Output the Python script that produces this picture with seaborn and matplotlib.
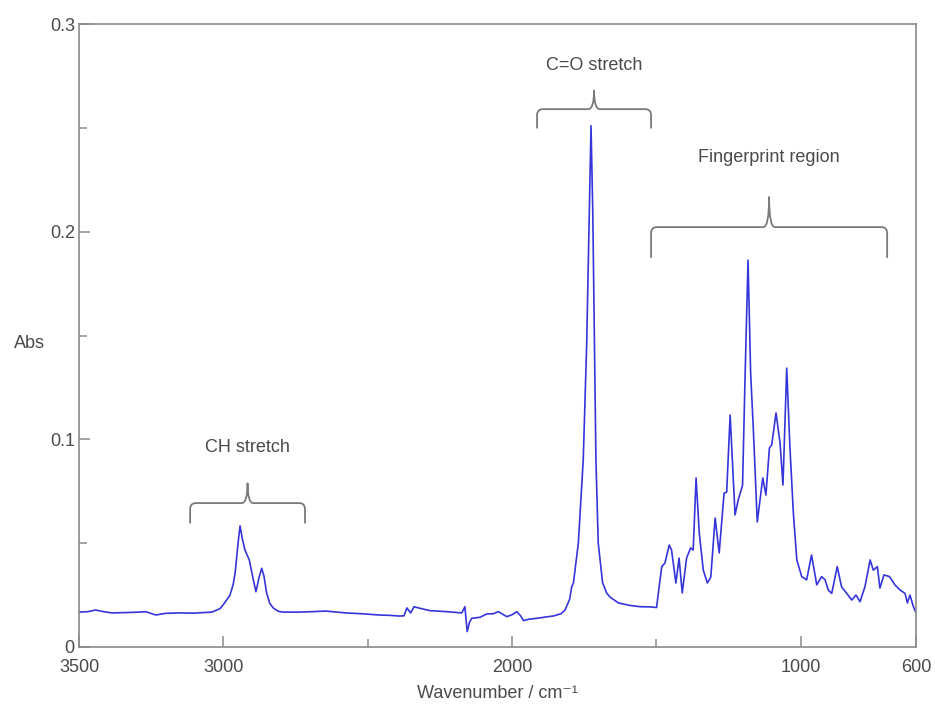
import matplotlib
matplotlib.use('Agg')
import matplotlib.pyplot as plt
from matplotlib.path import Path
from matplotlib.patches import PathPatch
from matplotlib.ticker import FixedLocator, FuncFormatter
import pandas as pd
import seaborn as sns

# ---------------- data ----------------
wavenumber = [3500, 3470, 3442, 3415, 3386, 3330, 3290, 3269, 3234, 3200, 3154, 3100, 3039,
              3011, 2994, 2977, 2966, 2959, 2949, 2942, 2934, 2925, 2910, 2897, 2887, 2877,
              2867, 2859, 2850, 2839, 2827, 2810, 2793, 2740, 2693, 2645, 2576, 2520, 2461,
              2420, 2391, 2374, 2364, 2351, 2339, 2324, 2284, 2226, 2174, 2163, 2155, 2147,
              2139, 2111, 2087, 2065, 2047, 2018, 2000, 1983, 1970, 1960, 1940, 1914, 1880,
              1857, 1830, 1816, 1800, 1793, 1787, 1770, 1753, 1741, 1732, 1726, 1720, 1714,
              1709, 1701, 1686, 1672, 1660, 1631, 1591, 1556, 1522, 1499, 1481, 1470, 1455,
              1447, 1432, 1421, 1410, 1395, 1381, 1372, 1362, 1351, 1337, 1323, 1311, 1296,
              1282, 1265, 1256, 1244, 1227, 1216, 1201, 1192, 1182, 1173, 1164, 1150, 1131,
              1120, 1108, 1100, 1085, 1071, 1061, 1048, 1037, 1025, 1013, 996, 979, 962,
              944, 927, 915, 904, 892, 873, 858, 840, 823, 808, 794, 777, 759, 748, 734,
              725, 711, 692, 673, 655, 638, 630, 621, 609, 600]
absorbance = [0.0168, 0.0170, 0.0178, 0.0170, 0.0164, 0.0166, 0.0168, 0.0170, 0.0154, 0.0162,
              0.0164, 0.0163, 0.0168, 0.0185, 0.0215, 0.0250, 0.0300, 0.0356, 0.0500, 0.0583,
              0.0520, 0.0467, 0.0419, 0.0330, 0.0266, 0.0330, 0.0379, 0.0340, 0.0260, 0.0210,
              0.0188, 0.0172, 0.0168, 0.0168, 0.0170, 0.0173, 0.0164, 0.0160, 0.0154, 0.0152,
              0.0149, 0.0150, 0.0188, 0.0164, 0.0194, 0.0188, 0.0175, 0.0170, 0.0164, 0.0194,
              0.0074, 0.0120, 0.0138, 0.0143, 0.0159, 0.0160, 0.0170, 0.0146, 0.0155, 0.0170,
              0.0150, 0.0127, 0.0134, 0.0138, 0.0145, 0.0149, 0.0160, 0.0178, 0.0230, 0.0290,
              0.0308, 0.0500, 0.0900, 0.1460, 0.2100, 0.2510, 0.2100, 0.1460, 0.0900, 0.0500,
              0.0310, 0.0260, 0.0240, 0.0212, 0.0200, 0.0194, 0.0193, 0.0190, 0.0387, 0.0404,
              0.0491, 0.0467, 0.0308, 0.0428, 0.0260, 0.0428, 0.0477, 0.0467, 0.0814, 0.0549,
              0.0370, 0.0308, 0.0337, 0.0621, 0.0453, 0.0741, 0.0746, 0.1117, 0.0636, 0.0708,
              0.0780, 0.1319, 0.1863, 0.1319, 0.1060, 0.0602, 0.0814, 0.0732, 0.0958, 0.0973,
              0.1127, 0.0982, 0.0780, 0.1343, 0.0965, 0.0645, 0.0419, 0.0339, 0.0323, 0.0443,
              0.0299, 0.0339, 0.0323, 0.0274, 0.0258, 0.0387, 0.0290, 0.0258, 0.0226, 0.0250,
              0.0218, 0.0290, 0.0419, 0.0370, 0.0387, 0.0284, 0.0347, 0.0339, 0.0299, 0.0274,
              0.0258, 0.0212, 0.0250, 0.0194, 0.0164]

x_major_ticks = [3500, 3000, 2000, 1000, 600]
x_minor_ticks = [2500, 1500]
y_major_ticks = [0, 0.1, 0.2, 0.3]
y_minor_ticks = [0.05, 0.15, 0.25]

# region annotations: label, start / end wavenumber, bracket level, text level, drop
bracket_labels = ['CH stretch', 'C=O stretch', 'Fingerprint region']
bracket_start = [3115, 1913, 1518]
bracket_end = [2717, 1518, 700]
bracket_level = [0.0693, 0.2590, 0.2022]
bracket_text_y = [0.0963, 0.2800, 0.2355]
bracket_drop = [0.0095, 0.0090, 0.0145]

# ---------------- style ----------------
sns.set_theme(style='white')
plt.rcParams['font.family'] = ['Liberation Sans', 'DejaVu Sans']

text_color = '#4a4a4a'
spine_color = '#8a8a8a'
line_color = '#3535dc'

fig = plt.figure(figsize=(9.35, 7.13), dpi=100)
ax = fig.add_axes([0.0845, 0.0926, 0.8952, 0.8737])

df = pd.DataFrame({'wavenumber': wavenumber, 'absorbance': absorbance})
sns.lineplot(data=df, x='wavenumber', y='absorbance', ax=ax, sort=False,
             estimator=None, color=line_color, linewidth=1.2)

ax.set_xlim(3500, 600)
ax.set_ylim(0, 0.3)

ax.xaxis.set_major_locator(FixedLocator(x_major_ticks))
ax.xaxis.set_minor_locator(FixedLocator(x_minor_ticks))
ax.yaxis.set_major_locator(FixedLocator(y_major_ticks))
ax.yaxis.set_minor_locator(FixedLocator(y_minor_ticks))
ax.yaxis.set_major_formatter(FuncFormatter(lambda v, p: '0' if v == 0 else f'{v:.1f}'))
ax.xaxis.set_major_formatter(FuncFormatter(lambda v, p: f'{int(round(v))}'))

ax.tick_params(axis='both', which='major', direction='in', length=8, width=1.1,
               color=spine_color, labelsize=13, labelcolor=text_color,
               bottom=True, left=True, top=False, right=False)
ax.tick_params(axis='both', which='minor', direction='in', length=5.5, width=1.1,
               color=spine_color, bottom=True, left=True, top=False, right=False)
ax.tick_params(axis='x', which='major', pad=9)
ax.tick_params(axis='y', which='major', pad=3)

for s in ax.spines.values():
    s.set_visible(True)
    s.set_color(spine_color)
    s.set_linewidth(1.2)

ax.set_xlabel('Wavenumber / cm⁻¹', fontsize=13, color=text_color, labelpad=6)
ax.set_ylabel('Abs', fontsize=13, color=text_color, rotation=0, ha='right', va='center')
ax.yaxis.set_label_coords(-0.041, 0.487)

# ---------------- brackets ----------------
rx = 20.0      # corner radius in wavenumber units
ry = 0.003     # corner radius in absorbance units
for label, x1, x2, y, ty, d in zip(bracket_labels, bracket_start, bracket_end,
                                   bracket_level, bracket_text_y, bracket_drop):
    xc = (x1 + x2) / 2.0
    tip = y + d
    verts = [(x1, y - d), (x1, y - ry), (x1, y), (x1 - rx, y),
             (xc + rx, y), (xc, y), (xc, tip),
             (xc, y), (xc - rx, y),
             (x2 + rx, y), (x2, y), (x2, y - ry), (x2, y - d)]
    codes = [Path.MOVETO, Path.LINETO, Path.CURVE3, Path.CURVE3,
             Path.LINETO, Path.CURVE3, Path.CURVE3,
             Path.CURVE3, Path.CURVE3,
             Path.LINETO, Path.CURVE3, Path.CURVE3, Path.LINETO]
    ax.add_patch(PathPatch(Path(verts, codes), fill=False, edgecolor='#7a7a7a',
                           linewidth=1.3, capstyle='round', joinstyle='round'))
    ax.text(xc, ty, label, ha='center', va='center', fontsize=13, color=text_color)

fig.savefig('out.png', dpi=100, facecolor='white')
